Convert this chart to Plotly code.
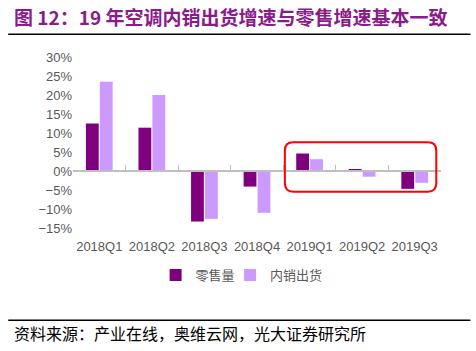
import plotly.graph_objects as go

categories = ["2018Q1", "2018Q2", "2018Q3", "2018Q4", "2019Q1", "2019Q2", "2019Q3"]
retail = [12.5, 11.4, -13.3, -4.1, 4.6, 0.4, -4.7]
domestic = [23.5, 20.0, -12.6, -11.0, 3.1, -1.5, -3.1]
series_names = ["零售量", "内销出货"]
title_text = "图 12：19 年空调内销出货增速与零售增速基本一致"
source_text = "资料来源：产业在线，奥维云网，光大证券研究所"

DARK = "#7F007F"
LIGHT = "#CC99FF"
GRAY = "#595959"

fig = go.Figure()
fig.add_trace(go.Bar(x=categories, y=retail, name=series_names[0], marker_color=DARK,
                     marker_line_width=0, legend="legend"))
fig.add_trace(go.Bar(x=categories, y=domestic, name=series_names[1], marker_color=LIGHT,
                     marker_line_width=0, legend="legend2"))
# invisible trace for the zero-line axis with ticks
fig.add_trace(go.Scatter(x=categories, y=[0]*len(categories), xaxis="x2", mode="markers",
                         marker=dict(opacity=0), showlegend=False, hoverinfo="skip"))

ymin, ymax = -15, 30
# rounded highlight box around 2019 quarters
x0, x1 = 3.53, 6.41
y0, y1 = -5.45, 7.55
rx, ry = 0.16, 2.2
path = (f"M {x0+rx},{y1} L {x1-rx},{y1} Q {x1},{y1} {x1},{y1-ry} "
        f"L {x1},{y0+ry} Q {x1},{y0} {x1-rx},{y0} L {x0+rx},{y0} "
        f"Q {x0},{y0} {x0},{y0+ry} L {x0},{y1-ry} Q {x0},{y1} {x0+rx},{y1} Z")

legend_common = dict(orientation="h", y=-0.275, yanchor="middle", xanchor="center",
                     font=dict(family="Noto Sans CJK SC", size=13, color=GRAY),
                     itemwidth=30, bgcolor="rgba(0,0,0,0)")

fig.update_layout(
    width=476, height=351,
    margin=dict(l=73, r=35, t=57, b=123),
    paper_bgcolor="white", plot_bgcolor="white",
    font=dict(family="Liberation Sans, Arial, sans-serif", size=13, color=GRAY),
    barmode="group", bargap=0.47, bargroupgap=0.08,
    showlegend=True,
    legend=dict(x=0.34, **legend_common),
    legend2=dict(x=0.56, **legend_common),
    xaxis=dict(type="category", showline=False, ticks="outside", ticklen=6,
               tickcolor="rgba(0,0,0,0)", showgrid=False, zeroline=False,
               tickfont=dict(size=13, color=GRAY), range=[-0.5, 6.5]),
    xaxis2=dict(type="category", overlaying="x", anchor="free",
                position=(0 - ymin) / (ymax - ymin), showline=True, linecolor="#BFBFBF",
                linewidth=1.5, ticks="inside", ticklen=5, tickcolor="#BFBFBF",
                tickson="boundaries", showticklabels=False, showgrid=False,
                range=[-0.5, 6.5], side="bottom"),
    yaxis=dict(range=[ymin, ymax], dtick=5, ticksuffix="%", showgrid=False,
               zeroline=False, showline=False, tickfont=dict(size=13, color=GRAY)),
    shapes=[
        dict(type="path", path=path, xref="x", yref="y",
             line=dict(color="#FF0000", width=2), fillcolor="rgba(0,0,0,0)"),
        dict(type="line", xref="paper", yref="paper", x0=-0.176, x1=1.08,
             y0=(227.7 - 34) / 171, y1=(227.7 - 34) / 171,
             line=dict(color="black", width=1.5)),
        dict(type="line", xref="paper", yref="paper", x0=-0.176, x1=1.08,
             y0=(227.7 - 320) / 171, y1=(227.7 - 320) / 171,
             line=dict(color="black", width=1.5)),
    ],
    annotations=[
        dict(text=f"<b>{title_text}</b>", xref="paper", yref="paper",
             x=(12 - 72.7) / 368, y=(227.7 - 16) / 171, xanchor="left", yanchor="middle",
             showarrow=False, font=dict(family="Noto Sans CJK SC", size=19, color="#8B1A8B")),
        dict(text=source_text, xref="paper", yref="paper",
             x=(12 - 72.7) / 368, y=(227.7 - 333) / 171, xanchor="left", yanchor="middle",
             showarrow=False, font=dict(family="Noto Sans CJK SC", size=16, color="black")),
    ],
)

fig.write_html("out.html")
